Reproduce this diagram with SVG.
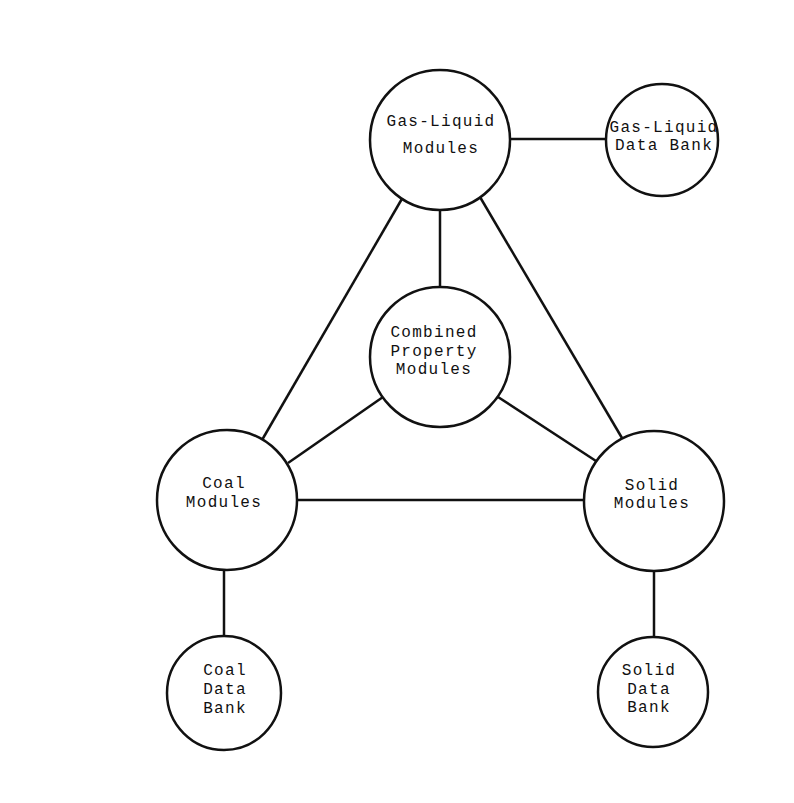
<svg xmlns="http://www.w3.org/2000/svg" width="794" height="803" viewBox="0 0 794 803">
<style>
.n{fill:#fff;stroke:#111;stroke-width:2.5}
.c line{stroke:#111;stroke-width:2.5}
text{font-family:"Liberation Mono","Courier New",monospace;font-size:16px;letter-spacing:1.3px;fill:#111;text-anchor:middle}
</style>
<rect width="794" height="803" fill="#fff"/>
<g class="c" id="connectors">
<line x1="510" y1="139" x2="606" y2="139"/>
<line x1="440" y1="210" x2="440" y2="287"/>
<line x1="403" y1="197" x2="262" y2="440"/>
<line x1="480" y1="197" x2="622" y2="438"/>
<line x1="383" y1="397" x2="288" y2="463"/>
<line x1="498" y1="397" x2="596" y2="461"/>
<line x1="297" y1="500" x2="584" y2="500"/>
<line x1="224" y1="570" x2="224" y2="636"/>
<line x1="654" y1="571" x2="654" y2="636"/>
</g>
<g id="gasliquid">
<circle class="n" cx="440" cy="140" r="70"/>
<text x="441" y="126">Gas-Liquid</text>
<text x="441" y="153">Modules</text>
</g>
<g id="gasliquid-db">
<circle class="n" cx="662" cy="140" r="56"/>
<text x="664" y="132">Gas-Liquid</text>
<text x="664" y="150">Data Bank</text>
</g>
<g id="combined">
<circle class="n" cx="440" cy="357" r="70"/>
<text x="434" y="337">Combined</text>
<text x="434" y="356">Property</text>
<text x="434" y="374">Modules</text>
</g>
<g id="coal">
<circle class="n" cx="227" cy="500" r="70"/>
<text x="224" y="488">Coal</text>
<text x="224" y="507">Modules</text>
</g>
<g id="solid">
<circle class="n" cx="654" cy="501" r="70"/>
<text x="652" y="490">Solid</text>
<text x="652" y="508">Modules</text>
</g>
<g id="coal-db">
<circle class="n" cx="224" cy="693" r="57"/>
<text x="225" y="675">Coal</text>
<text x="225" y="694">Data</text>
<text x="225" y="713">Bank</text>
</g>
<g id="solid-db">
<circle class="n" cx="653" cy="692" r="55"/>
<text x="649" y="675">Solid</text>
<text x="649" y="694">Data</text>
<text x="649" y="712">Bank</text>
</g>
</svg>
